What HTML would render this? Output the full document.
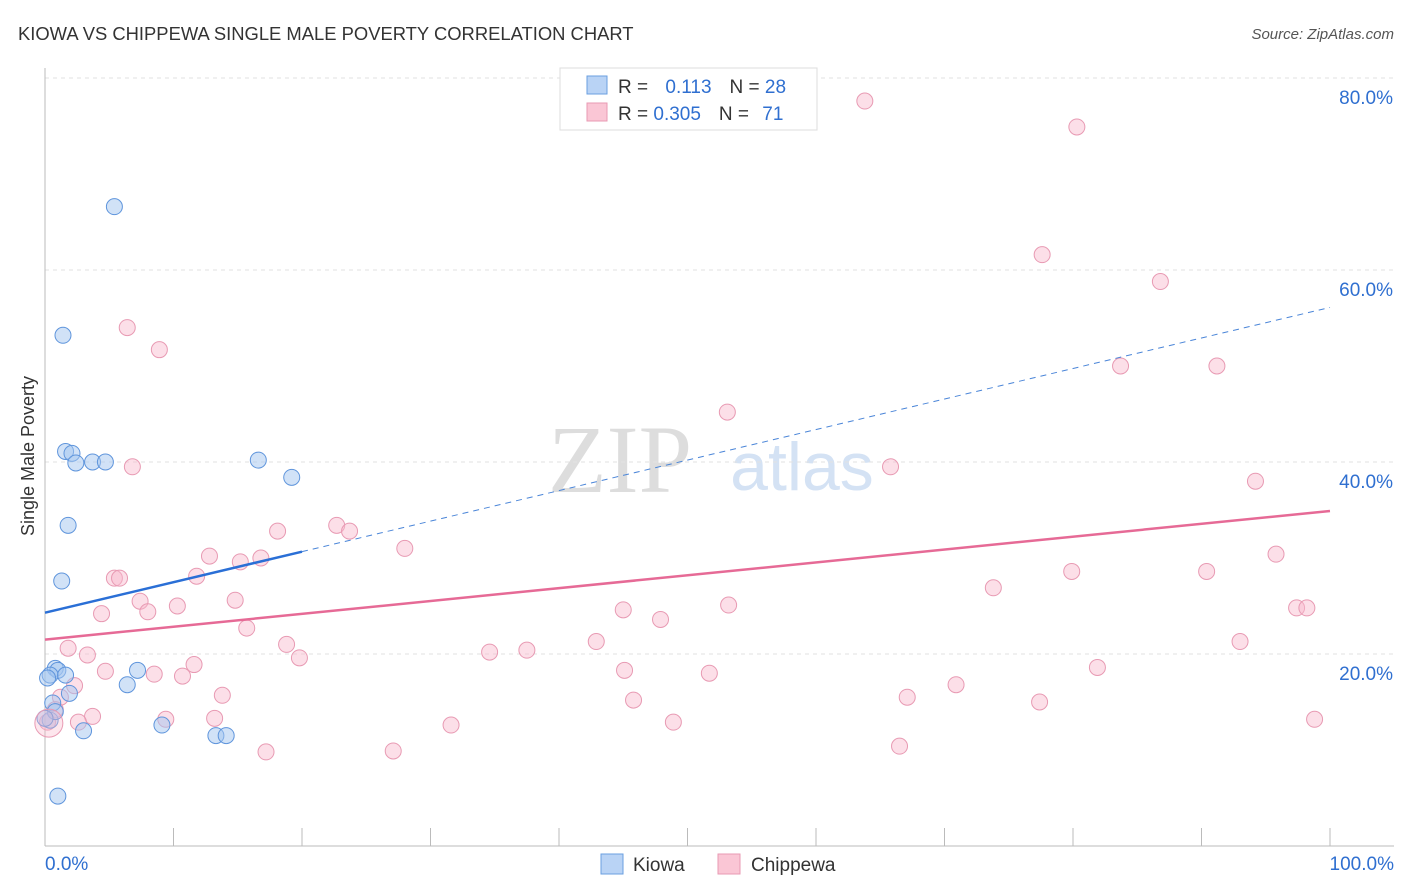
<!DOCTYPE html>
<html><head><meta charset="utf-8"><style>
body{margin:0;background:#fff;font-family:"Liberation Sans",sans-serif;}
svg{display:block}
</style></head><body>
<svg id="chart" width="1406" height="892">
<text x="18" y="40" font-size="18.4" fill="#333">KIOWA VS CHIPPEWA SINGLE MALE POVERTY CORRELATION CHART</text>
<text x="1394" y="39" font-size="15" fill="#555" text-anchor="end" font-style="italic">Source: ZipAtlas.com</text>
<text x="620" y="492" font-size="96" fill="#ddd" font-family="Liberation Serif,serif" text-anchor="middle">ZIP</text>
<text x="802" y="490" font-size="68" fill="#d4e2f4" text-anchor="middle">atlas</text>
<text transform="translate(34,456) rotate(-90)" font-size="18" fill="#333" text-anchor="middle">Single Male Poverty</text>
<g id="grid"></g><g id="axes"></g><g id="marks"></g>
<g>
<rect x="560" y="68" width="257" height="62" fill="#fff" stroke="#ddd"/>
<rect x="587" y="76" width="20" height="18" fill="#b9d3f5" stroke="#6a9fe0"/>
<rect x="587" y="103" width="20" height="18" fill="#fac6d5" stroke="#e89ab3"/>
<text x="618" y="93" font-size="19" fill="#333">R = <tspan fill="#2f6fd0" dx="12">0.113</tspan><tspan dx="18" fill="#333">N = </tspan><tspan fill="#2f6fd0">28</tspan></text>
<text x="618" y="120" font-size="19" fill="#333">R = <tspan fill="#2f6fd0">0.305</tspan><tspan dx="18" fill="#333">N = </tspan><tspan fill="#2f6fd0" dx="8">71</tspan></text>
</g>
<g>
<rect x="601" y="854" width="22" height="20" fill="#b9d3f5" stroke="#6a9fe0"/>
<text x="633" y="871" font-size="19" fill="#333">Kiowa</text>
<rect x="718" y="854" width="22" height="20" fill="#fac6d5" stroke="#e89ab3"/>
<text x="751" y="871" font-size="19" fill="#333">Chippewa</text>
</g>
</svg>
<script>
const kiowaX=[5.4,1.4,1.6,2.1,2.4,3.7,4.7,16.6,19.2,1.8,1.3,0.8,1.0,0.4,1.6,7.2,6.4,1.9,0.6,0.4,3.0,9.1,13.3,14.1,1.0,0.2,0.8,0.0];
const kiowaY=[66.6,53.2,41.1,40.9,39.9,40.0,40.0,40.2,38.4,33.4,27.6,18.5,18.3,17.8,17.8,18.3,16.8,15.9,14.9,13.1,12.0,12.6,11.5,11.5,5.2,17.5,14.0,13.3];
const chipX=[63.8,80.3,77.6,86.8,6.4,8.9,83.7,91.2,53.1,6.8,65.8,94.2,22.7,18.1,23.7,28.0,12.8,16.8,15.2,95.8,5.4,5.8,11.8,73.8,79.9,90.4,7.4,14.8,10.3,8.0,4.4,45.0,53.2,47.9,97.4,98.2,15.7,1.8,18.8,42.9,37.5,34.6,93.0,19.8,3.3,11.6,4.7,8.5,10.7,45.1,51.7,81.9,2.3,13.8,45.8,67.1,70.9,77.4,1.2,3.7,9.4,13.2,2.6,31.6,48.9,98.8,0.8,27.1,17.2,66.5,0.2];
const chipY=[77.6,74.9,61.6,58.8,54.0,51.7,50.0,50.0,45.2,39.5,39.5,38.0,33.4,32.8,32.8,31.0,30.2,30.0,29.6,30.4,27.9,27.9,28.1,26.9,28.6,28.6,25.5,25.6,25.0,24.4,24.2,24.6,25.1,23.6,24.8,24.8,22.7,20.6,21.0,21.3,20.4,20.2,21.3,19.6,19.9,18.9,18.2,17.9,17.7,18.3,18.0,18.6,16.7,15.7,15.2,15.5,16.8,15.0,15.5,13.5,13.2,13.3,12.9,12.6,12.9,13.2,14.2,9.9,9.8,10.4,12.9];
const kiowaTrend=[24.3,56.1];
const chipTrend=[21.5,34.9];
const yTicks=[20,40,60,80];
const yTickLabels=["20.0%","40.0%","60.0%","80.0%"];
const xTickLabels=["0.0%","100.0%"];
const NS="http://www.w3.org/2000/svg";
const sx=v=>45+v*12.85, sy=v=>846-v*9.6;
function mk(t,a,p){const e=document.createElementNS(NS,t);for(const k in a)e.setAttribute(k,a[k]);p.appendChild(e);return e;}
const grid=document.getElementById('grid'),axes=document.getElementById('axes'),marks=document.getElementById('marks');
yTicks.forEach((v,i)=>{
 const l=mk('line',{x1:45,x2:1394,y1:sy(v),y2:sy(v),stroke:'#e2e2e2','stroke-dasharray':'4,4'},grid);
 
 
 const t=mk('text',{x:1393,y:sy(v)+26,'font-size':19,fill:'#2f6fd0','text-anchor':'end'},axes);
 t.textContent=yTickLabels[i];
 
 
});
const xa=mk('line',{x1:45,x2:1394,y1:846,y2:846,stroke:'#bbb'},axes);


const ya=mk('line',{x1:45,x2:45,y1:68,y2:846,stroke:'#bbb'},axes);


for(let i=0;i<=10;i++){const tk=mk('line',{x1:sx(i*10),x2:sx(i*10),y1:828,y2:846,stroke:'#bbb'},axes);
 
 }
[[0,'start',45],[100,'end',1394]].forEach((d,i)=>{const t=mk('text',{x:d[2],y:870,'font-size':19,fill:'#2f6fd0','text-anchor':d[1]},axes);t.textContent=xTickLabels[i];
 
 });
function pts(X,Y,fill,stroke,name){X.forEach((x,i)=>{const c=mk('circle',{cx:sx(x),cy:sy(Y[i]),r:8,fill:fill,stroke:stroke,'stroke-width':1},marks);
 
 });}
pts(chipX,chipY,'rgba(248,183,203,0.45)','#e89ab3','chippewa-point');
pts(kiowaX,kiowaY,'rgba(164,198,240,0.5)','#5f95dc','kiowa-point');
const big=mk('circle',{cx:sx(0.3),cy:sy(12.8),r:14,fill:'rgba(248,183,203,0.35)',stroke:'#e89ab3'},marks);


const kd=mk('line',{x1:sx(20),y1:sy(kiowaTrend[0]+(kiowaTrend[1]-kiowaTrend[0])*0.2),x2:sx(100),y2:sy(kiowaTrend[1]),stroke:'#4a85d8','stroke-width':1,'stroke-dasharray':'6,5'},marks);


const ks=mk('line',{x1:sx(0),y1:sy(kiowaTrend[0]),x2:sx(20),y2:sy(kiowaTrend[0]+(kiowaTrend[1]-kiowaTrend[0])*0.2),stroke:'#2a6fd6','stroke-width':2.5},marks);


const cs=mk('line',{x1:sx(0),y1:sy(chipTrend[0]),x2:sx(100),y2:sy(chipTrend[1]),stroke:'#e66a96','stroke-width':2.5},marks);


</script>
</body></html>
